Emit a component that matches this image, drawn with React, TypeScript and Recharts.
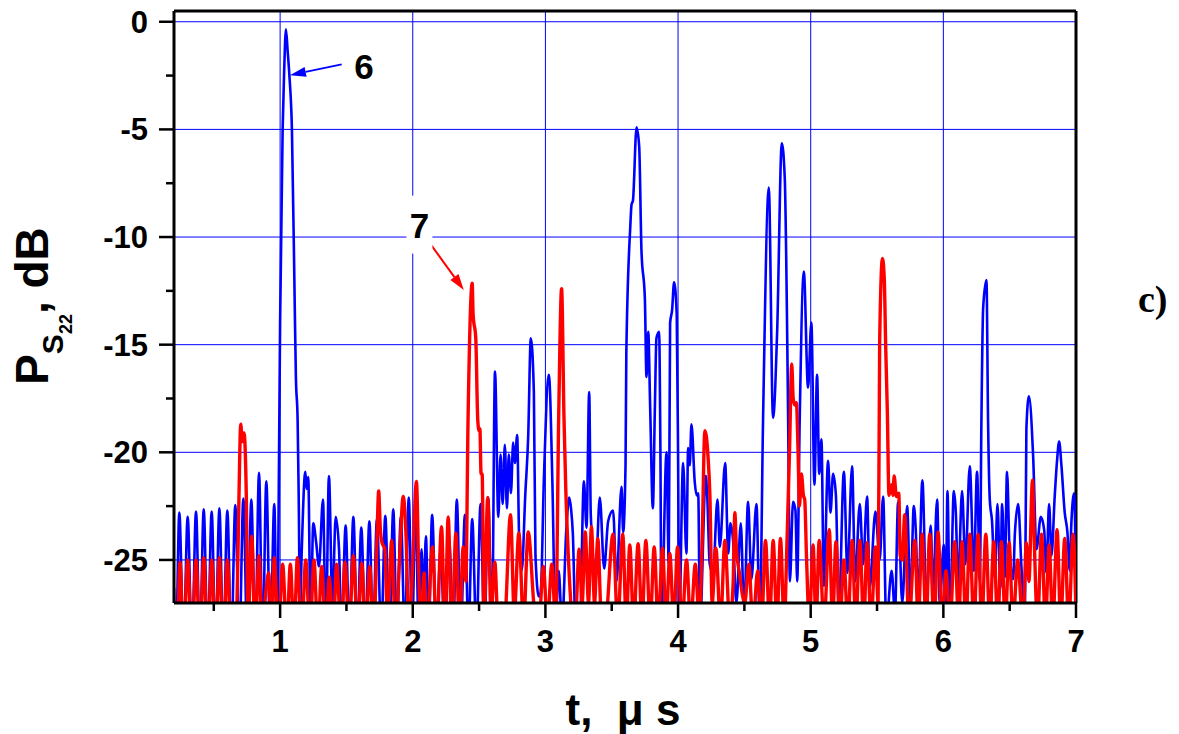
import React from 'react';
import { LineChart, Line, XAxis, YAxis, CartesianGrid, ReferenceLine, ReferenceDot, Label } from 'recharts';

// ---- axis ticks ----
const xTicks = [1, 2, 3, 4, 5, 6, 7];
const xMinorTicks = [0.5, 1.5, 2.5, 3.5, 4.5, 5.5, 6.5];
const yTicks = [-25, -20, -15, -10, -5, 0];
const yMinorTicks = [-22.5, -17.5, -12.5, -7.5, -2.5];
const xDomain: [number, number] = [0.2, 7];
const yDomain: [number, number] = [-27, 0.5];

// ---- curve 6 (blue): [t (µs), P (dB)] ----
const curve6: [number, number][] = [
  [0.2,-26.3],[0.215,-29],[0.24,-22.8],[0.272,-29],[0.303,-23.0],[0.335,-29],[0.366,-22.75],[0.395,-29],[0.424,-22.65],[0.454,-29],[0.484,-22.75],[0.513,-29],[0.542,-22.6],[0.572,-29],[0.602,-22.7],[0.632,-29],[0.662,-22.45],[0.692,-29],[0.723,-22.15],[0.753,-29],[0.783,-22.2],[0.812,-29],[0.841,-20.95],[0.868,-29],[0.896,-21.35],[0.926,-29],[0.956,-22.4],[0.977,-29],
  [0.994,-18.5],[1.0,-13.9],[1.019,-5],[1.03,-2.4],[1.044,-0.35],[1.056,-1.3],[1.07,-2.5],[1.089,-5],[1.112,-13.9],[1.119,-16.5],[1.132,-18.5],[1.14,-22],[1.15,-27.5],[1.162,-24.8],[1.19,-20.9],[1.2,-21.7],[1.212,-21.15],[1.23,-28],[1.25,-23.3],[1.272,-24.2],[1.293,-25.3],[1.323,-22.2],[1.345,-28.5],[1.368,-21.1],[1.394,-27],[1.419,-23.0],[1.444,-24.5],[1.463,-28.5],[1.494,-23.4],[1.522,-28.5],[1.552,-23.0],[1.582,-28.5],[1.612,-23.5],[1.642,-28.5],[1.673,-23.2],[1.7,-28.5],[1.73,-23.1],[1.762,-28.5],[1.793,-22.95],[1.823,-28.5],[1.853,-22.65],[1.88,-28.5],[1.91,-23.0],[1.94,-28.5],[1.97,-22.1],[1.995,-28.5],
  [2.021,-22.2],[2.045,-28.5],[2.066,-24.5],[2.082,-27],[2.099,-23.9],[2.12,-28.5],[2.146,-22.9],[2.178,-28.5],[2.21,-24.5],[2.24,-28.5],[2.275,-24.1],[2.305,-28.5],[2.332,-22.2],[2.362,-28.5],[2.393,-22.9],[2.42,-28.5],[2.448,-23.1],[2.48,-28.5],[2.511,-22.4],[2.54,-28.5],[2.569,-22.1],[2.597,-28.5],[2.62,-16.25],[2.645,-23.0],[2.662,-20.1],[2.678,-22.4],[2.694,-19.65],[2.71,-22.6],[2.724,-20.1],[2.74,-21.9],[2.757,-19.55],[2.77,-20.5],[2.787,-19.2],[2.802,-24.0],[2.822,-25.5],[2.848,-22],[2.87,-19.3],[2.89,-14.7],[2.913,-17.2],[2.925,-24.8],[2.95,-26.7],[2.965,-26.5],[2.988,-21.35],
  [3.026,-16.4],[3.053,-21.5],[3.075,-28],[3.1,-25.5],[3.125,-28],[3.159,-23.4],[3.179,-22.1],[3.193,-22.6],[3.207,-23.8],[3.227,-28],[3.26,-28],[3.29,-21.35],[3.31,-23.5],[3.33,-17.2],[3.342,-22.9],[3.378,-25.7],[3.41,-22.1],[3.443,-25.4],[3.473,-23.2],[3.51,-22.7],[3.536,-26],[3.574,-21.6],[3.586,-23.7],[3.604,-20.6],[3.61,-15.4],[3.64,-9.5],[3.649,-8.5],[3.66,-8.3],[3.687,-4.9],[3.707,-5.8],[3.724,-10.6],[3.75,-12.9],[3.762,-16.5],[3.775,-14.4],[3.79,-18],[3.81,-22.6],[3.825,-18],[3.837,-14.7],[3.857,-14.4],[3.867,-20],[3.875,-28],[3.913,-20],[3.93,-25.2],[3.94,-14],[3.955,-13.4],[3.97,-12.1],[3.99,-13.6],
  [4.0,-20],[4.008,-28],[4.038,-20.5],[4.063,-24.7],[4.076,-19.8],[4.088,-20.6],[4.101,-18.7],[4.126,-21.4],[4.14,-22],[4.152,-21.9],[4.165,-28],[4.209,-21.1],[4.219,-21.9],[4.239,-25.2],[4.264,-25.6],[4.297,-22.2],[4.315,-24.4],[4.355,-20.5],[4.378,-24.7],[4.395,-23.3],[4.415,-24.1],[4.44,-27],[4.473,-23.3],[4.498,-27.5],[4.528,-22.3],[4.553,-25.9],[4.591,-22.4],[4.616,-28],[4.641,-18.4],[4.684,-7.7],[4.716,-18.4],[4.747,-14.4],[4.782,-5.65],[4.804,-7.2],[4.83,-18.5],[4.843,-26],[4.867,-22.3],[4.885,-22.7],[4.898,-26],[4.917,-18.5],[4.948,-11.6],[4.98,-17],
  [5.005,-13.97],[5.028,-21.5],[5.048,-16.4],[5.064,-21],[5.081,-19.4],[5.099,-26.2],[5.131,-20.4],[5.149,-22.8],[5.169,-21],[5.19,-22],[5.212,-27.5],[5.25,-20.9],[5.277,-25.6],[5.312,-20.65],[5.335,-26],[5.37,-22.4],[5.395,-25.2],[5.425,-22.05],[5.445,-26.3],[5.488,-22.75],[5.52,-25],[5.546,-22.05],[5.57,-28],[5.61,-25.5],[5.635,-27.5],[5.659,-22.3],[5.69,-27],[5.727,-22.5],[5.752,-27],[5.777,-22.5],[5.792,-23.6],[5.81,-27],[5.842,-21.3],[5.872,-27],[5.905,-23.4],[5.922,-26.5],[5.953,-22.2],[5.973,-27],
  [6.003,-24.3],[6.017,-28],[6.031,-21.8],[6.05,-28],[6.079,-21.8],[6.094,-22.8],[6.111,-26.2],[6.141,-21.8],[6.166,-25.2],[6.199,-20.65],[6.23,-25.5],[6.254,-20.9],[6.275,-26],[6.287,-18.5],[6.3,-13.3],[6.325,-12.0],[6.337,-18.5],[6.35,-22.2],[6.367,-23.2],[6.388,-25.8],[6.408,-22.4],[6.43,-26.3],[6.443,-22.4],[6.463,-25.8],[6.48,-20.9],[6.5,-24.7],[6.526,-25.9],[6.539,-23.8],[6.564,-22.4],[6.59,-25.5],[6.615,-27.5],[6.626,-18.9],[6.645,-17.4],[6.677,-20.2],[6.702,-24.5],[6.735,-23],[6.76,-23.6],[6.777,-25.6],[6.797,-22.4],[6.815,-24.8],[6.84,-22],[6.857,-20.4],[6.873,-19.5],[6.89,-20.6],[6.915,-22.8],[6.935,-23.7],[6.953,-25.5],[6.965,-23.3],[6.986,-21.9],[7.0,-26.5],
];

// ---- curve 7 (red): [t (µs), P (dB)] ----
const curve7: [number, number][] = [
  [0.2,-29],[0.222,-29],[0.245,-25.1],[0.272,-29],[0.303,-25.0],[0.335,-29],[0.366,-25.0],[0.395,-29],[0.424,-24.9],[0.454,-29],[0.484,-25.0],[0.513,-29],[0.542,-24.9],[0.572,-29],[0.602,-25.0],[0.632,-29],[0.66,-29],[0.68,-25.5],[0.69,-22],[0.703,-18.7],[0.715,-19.5],[0.728,-19.1],[0.745,-22],[0.758,-28],[0.786,-23.9],[0.812,-28.5],[0.841,-24.8],[0.865,-28.5],[0.885,-27],[0.899,-26.1],[0.914,-25.6],[0.935,-28.5],[0.956,-24.9],[0.987,-28.5],
  [1.019,-25.2],[1.05,-28.5],[1.077,-25.2],[1.105,-28.5],[1.13,-24.9],[1.162,-28.5],[1.193,-25.0],[1.225,-28.5],[1.255,-25.0],[1.285,-28.5],[1.313,-25.3],[1.345,-28.5],[1.37,-25.8],[1.4,-28.5],[1.426,-25.2],[1.46,-28.5],[1.489,-25.1],[1.52,-28.5],[1.552,-24.8],[1.585,-28.5],[1.615,-25.15],[1.645,-28.5],[1.675,-25.3],[1.705,-28.5],[1.73,-24],[1.743,-21.8],[1.755,-23.5],[1.768,-24.2],[1.79,-24.5],[1.81,-28],[1.841,-24.1],[1.87,-28.5],[1.9,-25],[1.928,-22.05],[1.95,-24],[1.972,-28.5],
  [2.0,-25],[2.028,-21.35],[2.045,-25.6],[2.062,-28.5],[2.086,-25.6],[2.105,-28.5],[2.149,-24.4],[2.18,-28.5],[2.217,-23.45],[2.242,-28.5],[2.267,-23.0],[2.295,-28.5],[2.325,-23.75],[2.352,-28.5],[2.38,-24.4],[2.4,-26],[2.417,-18.4],[2.448,-12.15],[2.455,-13.6],[2.475,-14.7],[2.49,-18.5],[2.5,-19.0],[2.506,-18.9],[2.515,-21],[2.523,-21],[2.537,-28],[2.565,-22.1],[2.59,-27.5],[2.619,-25.1],[2.64,-27.5],[2.668,-27],[2.69,-28],[2.737,-22.9],[2.765,-27.5],[2.8,-23.75],[2.835,-28],[2.87,-23.7],[2.92,-27.5],[2.95,-28],[2.985,-25.3],
  [3.015,-28],[3.048,-25.2],[3.078,-28],[3.1,-18.4],[3.122,-12.4],[3.14,-18.4],[3.154,-21.8],[3.172,-24.7],[3.2,-27.5],[3.225,-28],[3.254,-24.5],[3.277,-27],[3.3,-23.7],[3.325,-27],[3.347,-23.45],[3.37,-27],[3.395,-24],[3.42,-27.5],[3.45,-28],[3.51,-23.8],[3.545,-28],[3.583,-23.8],[3.61,-28],[3.636,-24.3],[3.665,-28],[3.699,-24.25],[3.728,-28],[3.757,-24.1],[3.79,-28],[3.82,-24.4],[3.85,-28],[3.883,-24.45],[3.91,-28],[3.938,-24.7],[3.968,-28],[3.996,-24.4],
  [4.03,-28],[4.064,-25],[4.095,-28],[4.13,-25.2],[4.16,-28],[4.182,-24],[4.202,-19.0],[4.227,-20.3],[4.24,-22],[4.257,-27],[4.285,-24.45],[4.32,-28],[4.353,-24.1],[4.39,-28],[4.415,-26.1],[4.428,-22.8],[4.44,-24.5],[4.46,-25.5],[4.503,-27],[4.533,-25.2],[4.565,-28],[4.6,-25.5],[4.63,-28],[4.659,-24.1],[4.69,-28],[4.717,-24.1],[4.745,-28],[4.772,-24.0],[4.8,-28],[4.822,-24],[4.84,-20],[4.857,-15.9],[4.868,-17.5],[4.88,-17.8],[4.892,-17.7],[4.905,-20],[4.915,-22.5],[4.93,-21],[4.945,-22],[4.955,-22.2],[4.968,-24.8],[4.99,-28],
  [5.018,-24.3],[5.04,-28],[5.064,-24.1],[5.1,-28],[5.14,-23.6],[5.165,-28],[5.19,-24.15],[5.22,-28],[5.25,-25],[5.28,-28],[5.312,-24.1],[5.34,-28],[5.37,-24.1],[5.4,-28],[5.425,-24.2],[5.455,-28],[5.488,-24.4],[5.508,-27],[5.52,-14.8],[5.541,-11],[5.555,-12],[5.565,-15],[5.578,-18.2],[5.59,-22],[5.609,-21.5],[5.62,-22],[5.629,-21.1],[5.646,-22.05],[5.664,-21.9],[5.675,-24.8],[5.69,-25],[5.709,-22.9],[5.74,-28],[5.785,-24.1],[5.81,-28],[5.84,-23.8],[5.87,-28],[5.897,-23.8],[5.93,-28],[5.96,-23.7],[5.99,-28],
  [6.02,-25.5],[6.05,-28],[6.086,-24.15],[6.115,-28],[6.141,-24.15],[6.17,-28],[6.199,-23.8],[6.23,-28],[6.262,-23.8],[6.29,-28],[6.32,-23.8],[6.35,-28],[6.38,-24.15],[6.41,-28],[6.438,-24.15],[6.467,-28],[6.496,-24.2],[6.525,-28],[6.56,-25],[6.6,-28],[6.626,-24.2],[6.645,-26],[6.672,-21.3],[6.685,-24],[6.71,-28],[6.74,-23.8],[6.77,-28],[6.797,-24.3],[6.825,-28],[6.857,-23.6],[6.885,-28],[6.915,-24.0],[6.945,-28],[6.978,-23.8],[7.0,-27.5],
];

// ---- annotations (data coordinates) ----
const label6 = { t: 1.632, v: -2.06, text: '6' };
const arrow6 = { from: { t: 1.464, v: -1.98 }, to: { t: 1.074, v: -2.48 } };
const label7 = { t: 2.05, v: -9.47, text: '7' };
const arrow7 = { from: { t: 2.142, v: -10.4 }, to: { t: 2.385, v: -12.46 } };

const data6 = curve6.map(([t, v]) => ({ t, v }));
const data7 = curve7.map(([t, v]) => ({ t, v }));

const SANS = '"Liberation Sans", Arial, Helvetica, sans-serif';
const SERIF = '"Liberation Serif", "Times New Roman", serif';

const arrowShape = (color: string) => (props: any) => {
  const { x1, y1, x2, y2 } = props;
  const ang = Math.atan2(y2 - y1, x2 - x1);
  const len = 16;
  const half = 5;
  const bx = x2 - len * Math.cos(ang);
  const by = y2 - len * Math.sin(ang);
  const px = -Math.sin(ang) * half;
  const py = Math.cos(ang) * half;
  return (
    <g>
      <line x1={x1} y1={y1} x2={bx} y2={by} stroke={color} strokeWidth={2} />
      <polygon points={`${x2},${y2} ${bx + px},${by + py} ${bx - px},${by - py}`} fill={color} />
    </g>
  );
};

const textShape = (text: string, boxed: boolean) => (props: any) => {
  const { cx, cy } = props;
  return (
    <g>
      {boxed && <rect x={cx - 13} y={cy - 30} width={26} height={58} fill="#fff" />}
      <text x={cx} y={cy} textAnchor="middle" dominantBaseline="central" fontFamily={SANS} fontWeight="bold" fontSize={35} fill="#000">
        {text}
      </text>
    </g>
  );
};

const minorXTick = (props: any) => {
  const { x1, y1, y2 } = props;
  const yb = Math.max(y1, y2);
  return <line x1={x1} y1={yb} x2={x1} y2={yb + 8} stroke="#000" strokeWidth={2.5} />;
};

const minorYTick = (props: any) => {
  const { x1, x2, y1 } = props;
  const xl = Math.min(x1, x2);
  return <line x1={xl - 8} y1={y1} x2={xl} y2={y1} stroke="#000" strokeWidth={2.5} />;
};

const XTitle = () => (
  <text x={623} y={725} textAnchor="middle" fontFamily={SANS} fontWeight="bold" fontSize={44} fill="#000" style={{ whiteSpace: 'pre' }}>
    {'t,  \u03bc s'}
  </text>
);

const YTitle = () => (
  <text x={48} y={306} transform="rotate(-90, 48, 306)" textAnchor="middle" fontFamily={SANS} fontWeight="bold" fill="#000">
    <tspan fontSize={46}>P</tspan>
    <tspan fontSize={30} dy={15}>S</tspan>
    <tspan fontSize={18} dy={9}>22</tspan>
    <tspan fontSize={46} dy={-24}>{', dB'}</tspan>
  </text>
);

const tickStyle = { fill: '#000', fontSize: 31, fontWeight: 'bold', fontFamily: SANS };

export default function App() {
  return (
    <div style={{ position: 'absolute', left: 0, top: 0, width: 1179, height: 734, background: '#fff' }}>
      <LineChart width={1179} height={734} margin={{ top: 11, right: 103, bottom: 71, left: 100 }}>
        <CartesianGrid stroke="#0000ff" strokeWidth={1} />
        <XAxis
          type="number"
          dataKey="t"
          domain={xDomain}
          allowDataOverflow
          ticks={xTicks}
          height={60}
          axisLine={{ stroke: '#000', strokeWidth: 3 }}
          tickLine={{ stroke: '#000', strokeWidth: 2.5 }}
          tickSize={15}
          tickMargin={12}
          tick={tickStyle}
        >
          <Label content={XTitle} />
        </XAxis>
        <YAxis
          type="number"
          domain={yDomain}
          allowDataOverflow
          ticks={yTicks}
          width={74}
          axisLine={{ stroke: '#000', strokeWidth: 3 }}
          tickLine={{ stroke: '#000', strokeWidth: 2.5 }}
          tickSize={15}
          tickMargin={11}
          tick={tickStyle}
        >
          <Label content={YTitle} />
        </YAxis>
        {xMinorTicks.map((v) => (
          <ReferenceLine key={'mx' + v} x={v} shape={minorXTick} />
        ))}
        {yMinorTicks.map((v) => (
          <ReferenceLine key={'my' + v} y={v} shape={minorYTick} />
        ))}
        <ReferenceLine y={yDomain[1]} stroke="#000" strokeWidth={3} />
        <ReferenceLine x={xDomain[1]} stroke="#000" strokeWidth={3} />
        <Line data={data6} dataKey="v" type="monotone" stroke="#0000ff" strokeWidth={2.6} dot={false} activeDot={false} isAnimationActive={false} />
        <Line data={data7} dataKey="v" type="monotone" stroke="#ff0000" strokeWidth={3.4} dot={false} activeDot={false} isAnimationActive={false} />
        <ReferenceLine
          segment={[{ x: arrow6.from.t, y: arrow6.from.v }, { x: arrow6.to.t, y: arrow6.to.v }]}
          shape={arrowShape('#0000ff')}
        />
        <ReferenceLine
          segment={[{ x: arrow7.from.t, y: arrow7.from.v }, { x: arrow7.to.t, y: arrow7.to.v }]}
          shape={arrowShape('#ff0000')}
        />
        <ReferenceDot x={label6.t} y={label6.v} r={0} shape={textShape(label6.text, false)} />
        <ReferenceDot x={label7.t} y={label7.v} r={0} shape={textShape(label7.text, true)} />
      </LineChart>
      <div style={{ position: 'absolute', left: 1138, top: 278, fontFamily: SERIF, fontWeight: 'bold', fontSize: 38, color: '#000', lineHeight: '42px' }}>
        c)
      </div>
    </div>
  );
}
